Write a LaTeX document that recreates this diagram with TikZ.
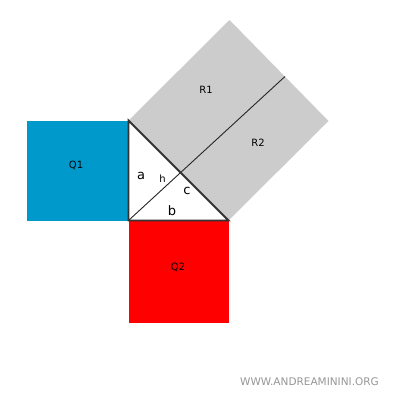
\documentclass[tikz,border=0pt]{standalone}
\usepackage{fontspec}
\setmainfont{DejaVu Sans}
\begin{document}
\begin{tikzpicture}[x=1pt,y=-1pt,
  lbl/.style={inner sep=0pt,font=\fontsize{10}{12}\selectfont},
  side/.style={inner sep=0pt,font=\fontsize{13}{15}\selectfont},
  tri/.style={draw=black!80,line width=1.8pt,line join=miter}]
\useasboundingbox (0,0) rectangle (400,400);
\coordinate (A) at (128.5,120.5);
\coordinate (C) at (128.5,220.5);
\coordinate (B) at (228.5,220.5);
\coordinate (T) at (229.5,20);
\coordinate (R) at (328.5,121);
\coordinate (H) at (180,171.5);
\coordinate (E) at (285,76.5);
\fill[fill={rgb,255:red,0;green,153;blue,204}] (27,120.5) rectangle (128.5,220.5);
\fill[fill={rgb,255:red,255;green,0;blue,0}] (128.5,220.5) rectangle (228.5,322.5);
\fill[fill={rgb,255:red,204;green,204;blue,204}] (A) -- (T) -- (R) -- (B) -- cycle;
\fill[white] (A) -- (B) -- (C) -- cycle;
\draw[black!85,line width=0.9pt] (C) -- (E);
\draw[tri] (A) -- (C) -- (B) -- cycle;
\node[lbl] (q1) at (76,165) {Q1};
\node[lbl] (q2) at (178,267) {Q2};
\node[lbl] (r1) at (206,90) {R1};
\node[lbl] (r2) at (258,143) {R2};
\node[side] (la) at (141,176) {a};
\node[lbl] (lh) at (162.5,179) {h};
\node[side] (lc) at (187,191) {c};
\node[side] (lb) at (172,211) {b};
\node[inner sep=0pt,text={rgb,255:red,150;green,150;blue,150},font=\fontsize{10.5}{12}\selectfont] (wm) at (309.5,382) {WWW.ANDREAMININI.ORG};
\end{tikzpicture}
\end{document}
